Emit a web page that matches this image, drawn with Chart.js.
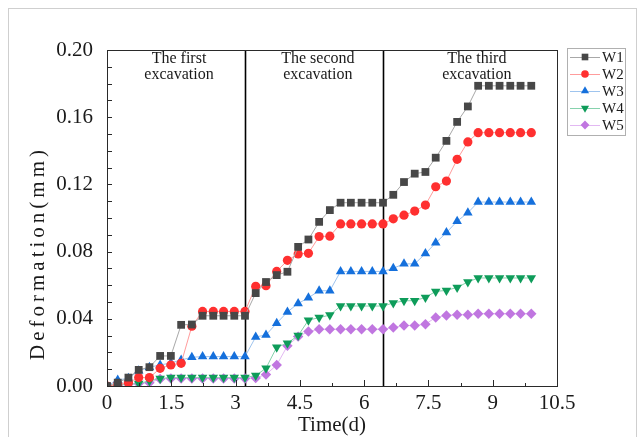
<!DOCTYPE html>
<html>
<head>
<meta charset="utf-8">
<script src="https://cdn.jsdelivr.net/npm/chart.js@4.4.1/dist/chart.umd.min.js"></script>
<style>
  html, body { margin: 0; padding: 0; background: #fff; }
</style>
</head>
<body>
<canvas id="chart" width="644" height="437"></canvas>
<script>
// sampling times (d)
const times = [0, 0.25, 0.5, 0.74, 0.99, 1.24, 1.49, 1.73, 1.98, 2.23, 2.48, 2.72, 2.97, 3.22,
  3.47, 3.71, 3.96, 4.21, 4.46, 4.70, 4.95, 5.20, 5.45, 5.69, 5.94, 6.19, 6.44, 6.68, 6.93,
  7.18, 7.43, 7.67, 7.92, 8.17, 8.42, 8.66, 8.91, 9.16, 9.41, 9.65, 9.90];

const w1 = [0, 0.002, 0.005, 0.0096, 0.0112, 0.0179, 0.0179, 0.0364, 0.0366, 0.0418, 0.0418, 0.0418, 0.0418, 0.0418,
  0.0553, 0.0619, 0.066, 0.068, 0.0828, 0.0872, 0.0977, 0.1047, 0.1091, 0.1091, 0.1091, 0.1091, 0.1091,
  0.1138, 0.1214, 0.1264, 0.1274, 0.1359, 0.1459, 0.1572, 0.1664, 0.1787, 0.1787, 0.1787, 0.1787, 0.1787, 0.1787];
const w2 = [0, 0.001, 0.002, 0.005, 0.005, 0.0105, 0.0125, 0.0135, 0.0356, 0.0444, 0.0444, 0.0444, 0.0444, 0.0444,
  0.0593, 0.0597, 0.0682, 0.0748, 0.0786, 0.079, 0.089, 0.0892, 0.0965, 0.0965, 0.0965, 0.0965, 0.0965,
  0.0995, 0.1017, 0.1041, 0.1077, 0.1186, 0.122, 0.1349, 0.1453, 0.1508, 0.1508, 0.1508, 0.1508, 0.1508, 0.1508];
const w3 = [0, 0.0036, 0.0046, 0.0091, 0.0112, 0.0125, 0.0137, 0.0155, 0.0171, 0.0175, 0.0175, 0.0175, 0.0175, 0.0175,
  0.0292, 0.0304, 0.0374, 0.0441, 0.0491, 0.0525, 0.0567, 0.0567, 0.0682, 0.0682, 0.0682, 0.0682, 0.0682,
  0.0701, 0.0727, 0.0727, 0.0788, 0.0852, 0.0913, 0.0981, 0.1031, 0.1095, 0.1095, 0.1095, 0.1095, 0.1095, 0.1095];
const w4 = [0, 0.0005, 0.001, 0.0015, 0.003, 0.0045, 0.005, 0.005, 0.005, 0.005, 0.005, 0.005, 0.005, 0.005,
  0.0062, 0.0106, 0.0231, 0.0255, 0.030, 0.0392, 0.0407, 0.0422, 0.0476, 0.0476, 0.0476, 0.0476, 0.0476,
  0.0494, 0.0507, 0.0508, 0.0527, 0.0563, 0.0569, 0.0587, 0.0619, 0.0643, 0.0643, 0.0643, 0.0643, 0.0643, 0.0643];
const w5 = [0, 0.0005, 0.001, 0.0015, 0.002, 0.0042, 0.0045, 0.0045, 0.0045, 0.0045, 0.0045, 0.0045, 0.0045, 0.0045,
  0.0048, 0.0068, 0.0125, 0.0239, 0.0294, 0.0324, 0.0338, 0.0338, 0.0338, 0.0338, 0.0338, 0.0338, 0.0338,
  0.0348, 0.036, 0.036, 0.0368, 0.0408, 0.042, 0.0424, 0.0424, 0.043, 0.043, 0.043, 0.043, 0.043, 0.043];

const seriesNames = ["W1", "W2", "W3", "W4", "W5"];
const stageBounds = [3.23, 6.45];
const stageLabels = [["The first", "excavation"], ["The second", "excavation"], ["The third", "excavation"]];
const stageLabelX = [1.68, 4.92, 8.63];
const xTicks = [0, 1.5, 3, 4.5, 6, 7.5, 9, 10.5];
const yTicks = [0, 0.04, 0.08, 0.12, 0.16, 0.2];

const SERIF = "'Liberation Serif', 'Times New Roman', serif";
Chart.defaults.font.family = SERIF;
Chart.defaults.color = "#1a1a1a";

const styles = [
  { marker: "#474747", line: "#a8a8a8", point: "rect", radius: 5.5, rotation: 0 },
  { marker: "#ff3030", line: "#ff9c9c", point: "circle", radius: 4.6, rotation: 0 },
  { marker: "#1570dc", line: "#9fc4ee", point: "triangle", radius: 5.5, rotation: 0 },
  { marker: "#0e9c5a", line: "#86d2ad", point: "triangle", radius: 5.5, rotation: 180 },
  { marker: "#c076e0", line: "#e2b8f2", point: "rectRot", radius: 5.2, rotation: 0 },
];

const values = [w1, w2, w3, w4, w5];
const datasets = values.map((vals, i) => ({
  label: seriesNames[i],
  data: vals.map((v, k) => ({ x: times[k], y: v })),
  borderColor: styles[i].line,
  backgroundColor: styles[i].marker,
  borderWidth: 1,
  pointStyle: styles[i].point,
  pointRotation: styles[i].rotation,
  pointRadius: styles[i].radius,
  pointBorderWidth: 0,
  pointBackgroundColor: styles[i].marker,
  tension: 0,
}));

const decorPlugin = {
  id: "decor",
  beforeDraw(chart) {
    const { ctx } = chart;
    ctx.save();
    ctx.fillStyle = "#fff";
    ctx.fillRect(0, 0, chart.width, chart.height);
    ctx.strokeStyle = "#cfcfcf";
    ctx.lineWidth = 1;
    ctx.strokeRect(8.5, 8.5, 628, 440);
    ctx.restore();
  },
  beforeDatasetsDraw(chart) {
    const { ctx, chartArea: a, scales } = chart;
    const x = scales.x, y = scales.y;
    ctx.save();
    // stage separators
    ctx.strokeStyle = "#000";
    ctx.lineWidth = 1.6;
    stageBounds.forEach((b) => {
      const px = Math.round(x.getPixelForValue(b)) + 0.5;
      ctx.beginPath();
      ctx.moveTo(px, a.top);
      ctx.lineTo(px, a.bottom);
      ctx.stroke();
    });
    // stage labels
    ctx.fillStyle = "#1a1a1a";
    ctx.font = "16px " + SERIF;
    ctx.textAlign = "center";
    ctx.textBaseline = "middle";
    stageLabels.forEach((lines, i) => {
      const px = x.getPixelForValue(stageLabelX[i]);
      lines.forEach((t, j) => ctx.fillText(t, px, a.top + 9 + j * 16));
    });
    ctx.restore();
  },
  afterDraw(chart) {
    const { ctx, chartArea: a, scales } = chart;
    const x = scales.x, y = scales.y;
    ctx.save();
    // frame
    ctx.strokeStyle = "#2a2a2a";
    ctx.lineWidth = 1;
    ctx.strokeRect(a.left + 0.5, a.top + 0.5, a.right - a.left, a.bottom - a.top);
    // inward ticks
    ctx.beginPath();
    for (let k = 0; k <= 20; k++) {
      const py = Math.round(y.getPixelForValue(k * 0.01)) + 0.5;
      ctx.moveTo(a.left, py);
      ctx.lineTo(a.left + 5, py);
    }
    for (let k = 0; k <= 14; k++) {
      const px = Math.round(x.getPixelForValue(k * 0.75)) + 0.5;
      const len = k % 2 === 0 ? 6 : 3;
      ctx.moveTo(px, a.bottom);
      ctx.lineTo(px, a.bottom - len);
    }
    ctx.stroke();
    // axis titles
    ctx.fillStyle = "#1a1a1a";
    ctx.font = "21px " + SERIF;
    ctx.textAlign = "center";
    ctx.textBaseline = "middle";
    ctx.fillText("Time(d)", (a.left + a.right) / 2, 425);
    ctx.save();
    ctx.translate(38, 253);
    ctx.rotate(-Math.PI / 2);
    ctx.letterSpacing = "4px";
    ctx.fillText("Deformation(mm)", 0, 0);
    ctx.restore();
    // legend
    const lx = 567, ly = 48;
    ctx.strokeStyle = "#b0b0b0";
    ctx.strokeRect(lx + 0.5, ly + 0.5, 58, 87);
    ctx.font = "15px " + SERIF;
    ctx.textAlign = "left";
    seriesNames.forEach((name, i) => {
      const s = styles[i];
      const cy = ly + 9 + i * 17;
      ctx.strokeStyle = s.line;
      ctx.lineWidth = 1;
      ctx.beginPath();
      ctx.moveTo(lx + 3, cy + 0.5);
      ctx.lineTo(lx + 33, cy + 0.5);
      ctx.stroke();
      ctx.fillStyle = s.marker;
      Chart.helpers.drawPoint(ctx, { pointStyle: s.point, radius: s.radius - 0.8, rotation: s.rotation, borderWidth: 0 }, lx + 18, cy);
      ctx.fillStyle = "#1a1a1a";
      ctx.fillText(name, lx + 35, cy + 1);
    });
    ctx.restore();
  },
};

new Chart(document.getElementById("chart"), {
  type: "line",
  data: { datasets },
  options: {
    responsive: false,
    animation: false,
    devicePixelRatio: 1,
    layout: { padding: { left: 0, right: 87, top: 50, bottom: 0 } },
    plugins: { legend: { display: false }, tooltip: { enabled: false } },
    scales: {
      x: {
        type: "linear",
        min: 0,
        max: 10.5,
        afterFit(scale) { scale.height = 51; },
        afterBuildTicks(scale) { scale.ticks = xTicks.map((v) => ({ value: v })); },
        ticks: { font: { size: 21 }, padding: 5, maxRotation: 0, callback: (v) => String(Number(v.toFixed(2))) },
        grid: { display: false, drawTicks: false },
        border: { display: false },
      },
      y: {
        type: "linear",
        min: 0,
        max: 0.2,
        afterFit(scale) { scale.width = 107; },
        afterBuildTicks(scale) { scale.ticks = yTicks.map((v) => ({ value: v })); },
        ticks: { font: { size: 21 }, padding: 14, callback: (v) => v.toFixed(2) },
        grid: { display: false, drawTicks: false },
        border: { display: false },
      },
    },
  },
  plugins: [decorPlugin],
});
</script>
</body>
</html>
